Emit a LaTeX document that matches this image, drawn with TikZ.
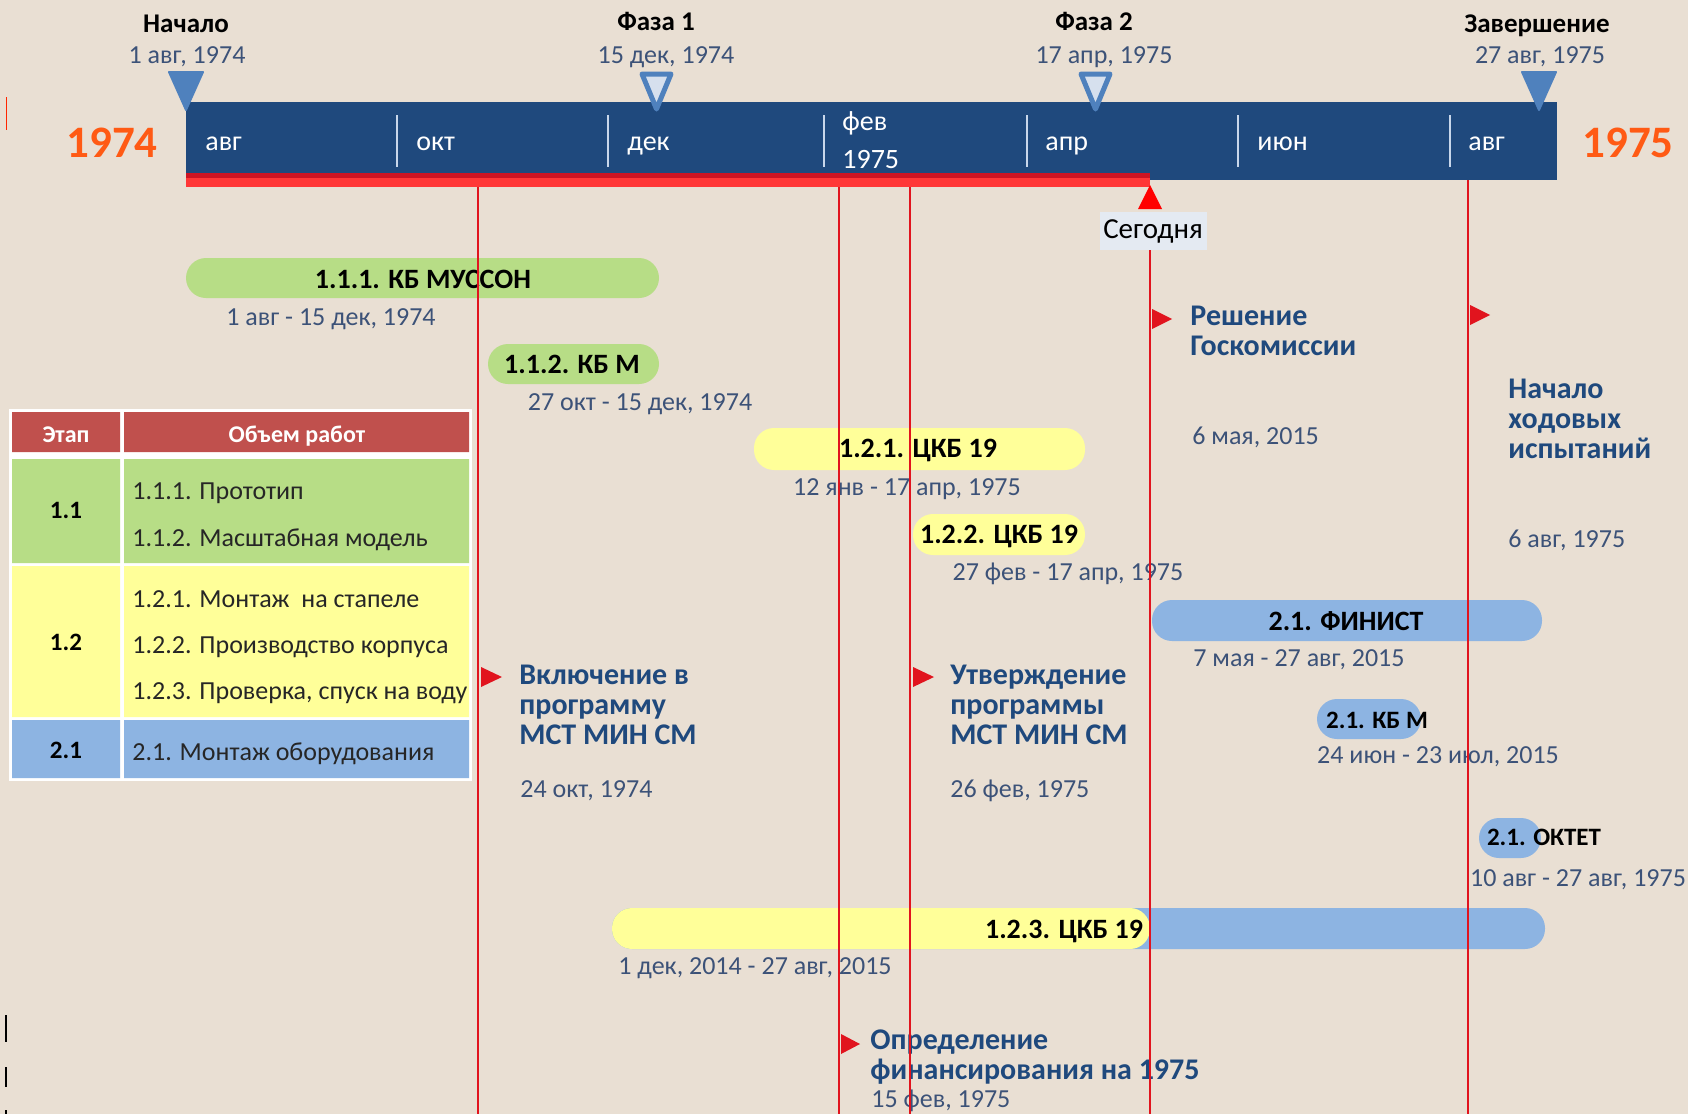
\documentclass[tikz,border=0pt]{standalone}
\usepackage{fontspec}
\setmainfont{Carlito}
\definecolor{bg}{RGB}{233,223,211}
\definecolor{tlblue}{RGB}{31,73,125}
\definecolor{mlblue}{RGB}{79,129,189}
\definecolor{mlhollow}{RGB}{214,224,238}
\definecolor{orangey}{RGB}{255,90,20}
\definecolor{redln}{RGB}{225,20,30}
\definecolor{redbar}{RGB}{255,55,55}
\definecolor{redbardk}{RGB}{205,20,35}
\definecolor{grn}{RGB}{183,221,134}
\definecolor{yel}{RGB}{255,255,153}
\definecolor{blu}{RGB}{141,180,226}
\definecolor{datec}{RGB}{60,82,120}
\definecolor{evtc}{RGB}{31,73,125}
\definecolor{hdrred}{RGB}{192,80,77}
\definecolor{todaybg}{RGB}{228,234,242}
\definecolor{divc}{RGB}{200,215,235}
\begin{document}
\begin{tikzpicture}[x=0.5pt,y=-0.5pt,
  every node/.style={inner sep=0pt},
  month/.style={text=white, font=\fontsize{14}{18}\selectfont, anchor=base west},
  yearlbl/.style={text=orangey, font=\fontsize{22.5}{27}\selectfont\bfseries, anchor=base},
  msname/.style={text=black, font=\fontsize{13.5}{16}\selectfont\bfseries, anchor=base},
  msdate/.style={text=datec, font=\fontsize{13}{15}\selectfont, anchor=base},
  barlbl/.style={text=black, font=\fontsize{14}{16}\selectfont\bfseries, anchor=base},
  sbarlbl/.style={text=black, font=\fontsize{12.5}{15}\selectfont\bfseries, anchor=base},
  datelbl/.style={text=datec, font=\fontsize{13}{15}\selectfont, anchor=base},
  evt/.style={text=evtc, font=\fontsize{15}{15}\selectfont\bfseries, align=left, anchor=west},
  evtdate/.style={text=datec, font=\fontsize{13}{15}\selectfont, anchor=base west},
  thdr/.style={text=white, font=\fontsize{12}{14}\selectfont\bfseries, anchor=base},
  tstage/.style={text=black, font=\fontsize{12.5}{14}\selectfont\bfseries, anchor=base},
  titem/.style={text=black!85, font=\fontsize{13}{15}\selectfont, anchor=base west},
  capsule/.style={rounded corners=10pt},
  vline/.style={draw=redln, line width=1pt},
  flag/.style={fill=redln},
  filledms/.style={fill=mlblue, draw=mlblue, line width=1pt, line join=round},
  hollowms/.style={fill=mlhollow, draw=mlblue, line width=2.5pt, line join=round}
]
\fill[bg] (0,0) rectangle (1688,1114);
\useasboundingbox (0,0) rectangle (1688,1114);

% stray marks at the left edge
\draw[red!70!orange, line width=0.5pt] (6,97) -- (6,130);
\draw[black, line width=1pt] (5.5,1015) -- (5.5,1042) (5.5,1067) -- (5.5,1087) (5.5,1110) -- (5.5,1114);

% timeline bar
\fill[tlblue] (186,102) rectangle (1557,180);
\foreach \x in {397,608,824,1027,1238,1450} \draw[divc, line width=1pt] (\x,115) -- (\x,167);
\node[month] (m1) at (205,150) {авг};
\node[month] (m2) at (416,150) {окт};
\node[month] (m3) at (627,150) {дек};
\node[month] (m4) at (842,130) {фев};
\node[month] (m4b) at (842,168) {1975};
\node[month] (m5) at (1045,150) {апр};
\node[month] (m6) at (1257,150) {июн};
\node[month] (m7) at (1468,150) {авг};
\fill[redbar] (186,173) rectangle (1150,187);
\fill[redbardk] (186,173) rectangle (1150,178);

\node[yearlbl] (y1) at (112,157) {1974};
\node[yearlbl] (y2) at (1628,157) {1975};

% milestones
\filldraw[filledms] (169,72) -- (203,72) -- (186,110) -- cycle;
\filldraw[hollowms] (642,74) -- (671,74) -- (656.5,109) -- cycle;
\filldraw[hollowms] (1081,74) -- (1110,74) -- (1095.5,109) -- cycle;
\filldraw[filledms] (1522,72) -- (1556,72) -- (1539,110) -- cycle;
\node[msname] (s0) at (186,32) {Начало};
\node[msdate] (s0d) at (187,63) {1 авг, 1974};
\node[msname] (s1) at (656,30) {Фаза 1};
\node[msdate] (s1d) at (666,63) {15 дек, 1974};
\node[msname] (s2) at (1094,30) {Фаза 2};
\node[msdate] (s2d) at (1104,63) {17 апр, 1975};
\node[msname] (s3) at (1537,32) {Завершение};
\node[msdate] (s3d) at (1540,63) {27 авг, 1975};

% task bars
\fill[grn, capsule] (186,258) rectangle (659,298);
\node[barlbl] (b1) at (423,288) {1.1.1. КБ МУССОН};
\node[datelbl] (b1d) at (331,325) {1 авг - 15 дек, 1974};

\fill[grn, capsule] (488,344) rectangle (659,384);
\node[barlbl] (b2) at (572,373) {1.1.2. КБ М};
\node[datelbl] (b2d) at (640,410) {27 окт - 15 дек, 1974};

\fill[yel, capsule] (754,428) rectangle (1085,470);
\node[barlbl] (b3) at (918,457) {1.2.1. ЦКБ 19};
\node[datelbl] (b3d) at (907,495) {12 янв - 17 апр, 1975};

\fill[yel, capsule] (913,514) rectangle (1085,555);
\node[barlbl] (b4) at (999,543) {1.2.2. ЦКБ 19};
\node[datelbl] (b4d) at (1068,580) {27 фев - 17 апр, 1975};

\fill[blu, capsule] (1152,600) rectangle (1542,641);
\node[barlbl] (b5) at (1346,630) {2.1. ФИНИСТ};
\node[datelbl] (b5d) at (1299,666) {7 мая - 27 авг, 2015};

\fill[blu, capsule] (1317,699) rectangle (1421,739);
\node[sbarlbl] (b6) at (1377,728) {2.1. КБ М};
\node[datelbl] (b6d) at (1438,763) {24 июн - 23 июл, 2015};

\fill[blu, capsule] (1479,818) rectangle (1541,858);
\node[sbarlbl] (b7) at (1544,845) {2.1. ОКТЕТ};
\node[datelbl] (b7d) at (1578,886) {10 авг - 27 авг, 1975};

\fill[blu, capsule] (612,908) rectangle (1545,949);
\fill[yel, capsule] (612,908) rectangle (1150,949);
\node[barlbl] (b8) at (1064,938) {1.2.3. ЦКБ 19};
\node[datelbl] (b8d) at (755,974) {1 дек, 2014 - 27 авг, 2015};

% table
\fill[white] (9,409) rectangle (472,781);
\fill[hdrred] (12,412) rectangle (120,452) (124,412) rectangle (469,452);
\fill[grn] (12,459) rectangle (120,563) (124,459) rectangle (469,563);
\fill[yel] (12,566) rectangle (120,717) (124,566) rectangle (469,717);
\fill[blu] (12,720) rectangle (120,778) (124,720) rectangle (469,778);
\node[thdr] (h1) at (66,442) {Этап};
\node[thdr] (h2) at (297,442) {Объем работ};
\node[tstage] (r1) at (66,518) {1.1};
\node[tstage] (r2) at (66,650) {1.2};
\node[tstage] (r3) at (66,758) {2.1};
\node[titem] (i1) at (132,499) {1.1.1. Прототип};
\node[titem] (i2) at (132,546) {1.1.2. Масштабная модель};
\node[titem] (i3) at (132,607) {1.2.1. Монтаж\ \ на стапеле};
\node[titem] (i4) at (132,653) {1.2.2. Производство корпуса};
\node[titem] (i5) at (132,699) {1.2.3. Проверка, спуск на воду};
\node[titem] (i6) at (132,760) {2.1. Монтаж оборудования};

% events
\node[evt] (e1) at (519,705) {Включение в\\программу\\МСТ МИН СМ};
\node[evtdate] (e1d) at (520,797) {24 окт, 1974};
\node[evt] (e2) at (950,705) {Утверждение\\программы\\МСТ МИН СМ};
\node[evtdate] (e2d) at (950,797) {26 фев, 1975};
\node[evt] (e3) at (870,1057) {Определение\\финансирования на 1975};
\node[evtdate] (e3d) at (871,1107) {15 фев, 1975};
\node[evt] (e4) at (1190,331) {Решение\\Госкомиссии};
\node[evtdate] (e4d) at (1192,444) {6 мая, 2015};
\node[evt] (e5) at (1508,419) {Начало\\ходовых\\испытаний};
\node[evtdate] (e5d) at (1508,547) {6 авг, 1975};

% today marker
\node[fill=todaybg, minimum width=53.5pt, minimum height=19pt, text=black,
  font=\fontsize{14.5}{16}\selectfont] (today) at (1153,231) {Сегодня};
\fill[red] (1150,185) -- (1162,209) -- (1138,209) -- cycle;

% vertical event lines
\coordinate (l1t) at (478,187);  \coordinate (l1b) at (478,1114);
\coordinate (l2t) at (839,187);  \coordinate (l2b) at (839,1114);
\coordinate (l3t) at (910,187);  \coordinate (l3b) at (910,1114);
\coordinate (l4b) at (1150,1114);
\coordinate (l5t) at (1468,180); \coordinate (l5b) at (1468,1114);
\draw[vline] (l1t) -- (l1b);
\draw[vline] (l2t) -- (l2b);
\draw[vline] (l3t) -- (l3b);
\draw[vline] (today.south -| l4b) -- (l4b);
\draw[vline] (l5t) -- (l5b);

% flags
\fill[flag] (481,667) -- (502,677) -- (481,687) -- cycle;
\fill[flag] (913,667) -- (934,677) -- (913,687) -- cycle;
\fill[flag] (841,1034) -- (860,1044) -- (841,1054) -- cycle;
\fill[flag] (1152,309) -- (1172,319) -- (1152,329) -- cycle;
\fill[flag] (1470,305) -- (1490,315) -- (1470,325) -- cycle;
\end{tikzpicture}
\end{document}
